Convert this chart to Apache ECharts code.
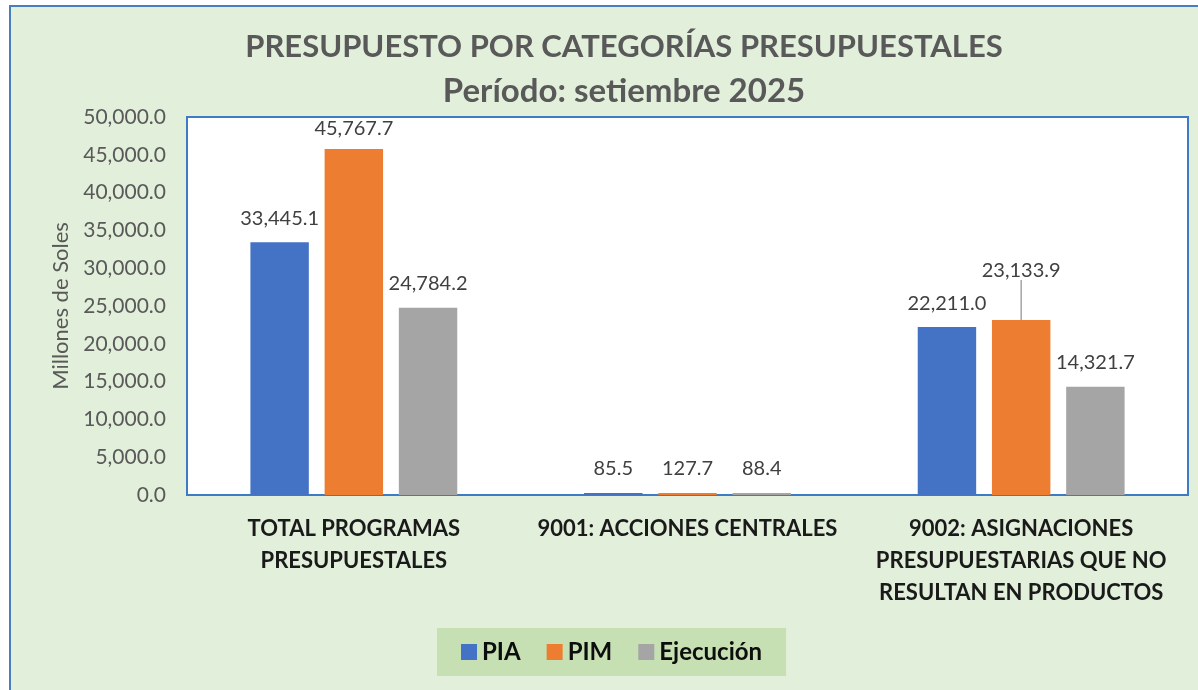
<!DOCTYPE html>
<html>
<head>
<meta charset="utf-8">
<script src="https://cdn.jsdelivr.net/npm/echarts@6/dist/echarts.min.js"></script>
<style>
html, body { margin: 0; padding: 0; background: #fff; }
#chart { width: 1198px; height: 690px; }
</style>
</head>
<body>
<div id="chart"></div>
<script>
"use strict";

/*-----data-----*/
var categories = [
	'TOTAL PROGRAMAS\nPRESUPUESTALES',
	'9001: ACCIONES CENTRALES',
	'9002: ASIGNACIONES\nPRESUPUESTARIAS QUE NO\nRESULTAN EN PRODUCTOS'
];
var pia = [33445.1, 85.5, 22211.0];
var pim = [45767.7, 127.7, 23133.9];
var ejecucion = [24784.2, 88.4, 14321.7];
var seriesNames = ['PIA', 'PIM', 'Ejecución'];

var font = 'Lato, "Open Sans", sans-serif';
var gridTop = 117;

function fmt(v) {
	return v.toLocaleString('en-US', { minimumFractionDigits: 1, maximumFractionDigits: 1 });
}

var labelStyle = {
	show: true,
	position: 'top',
	distance: 14,
	fontFamily: font,
	fontSize: 20,
	color: '#404040',
	formatter: function (p) { return fmt(p.value); }
};

// the PIM label of the last group is lifted, with a leader line
function toItems(data, seriesIdx) {
	return data.map(function (v, i) {
		if (seriesIdx === 1 && i === 2) {
			return { value: v, labelLine: { show: true } };
		}
		return v;
	});
}

function makeSeries(idx, data, color) {
	return {
		name: seriesNames[idx],
		type: 'bar',
		data: toItems(data, idx),
		barGap: '27%',
		barCategoryGap: '38%',
		barMinHeight: 2,
		itemStyle: { color: color },
		label: labelStyle,
		labelLine: { show: false, lineStyle: { color: '#a5a5a5', width: 1.5 } }
	};
}

var chart = echarts.init(document.getElementById('chart'));
var option = {
	backgroundColor: '#ffffff',
	graphic: [{
		type: 'rect',
		z: -10,
		shape: { x: 10, y: 6, width: 1200, height: 700 },
		style: { fill: '#e2efda', stroke: '#4a7ebb', lineWidth: 2 }
	}],
	title: {
		text: '{a|PRESUPUESTO POR CATEGORÍAS PRESUPUESTALES}\n{b|Período: setiembre 2025}',
		left: 619,
		top: 20,
		textAlign: 'center',
		textStyle: {
			rich: {
				a: { fontFamily: font, fontSize: 31, fontWeight: 'bold', color: '#595959', lineHeight: 44 },
				b: { fontFamily: font, fontSize: 33, fontWeight: 'bold', color: '#595959', lineHeight: 44 }
			}
		}
	},
	legend: {
		data: seriesNames,
		left: 437,
		top: 628,
		padding: [12, 24, 12, 24],
		itemGap: 26,
		itemWidth: 16,
		itemHeight: 16,
		icon: 'rect',
		backgroundColor: '#c6e0b4',
		textStyle: { fontFamily: font, fontSize: 24, fontWeight: 'bold', color: '#0d0d0d' }
	},
	grid: {
		left: 187,
		right: 10,
		top: gridTop,
		bottom: 195,
		show: true,
		backgroundColor: '#ffffff',
		borderColor: '#3d7cc4',
		borderWidth: 2
	},
	xAxis: {
		type: 'category',
		data: categories,
		axisLine: { show: false },
		axisTick: { show: false },
		axisLabel: {
			interval: 0,
			margin: 18,
			fontFamily: font,
			fontSize: 22,
			fontWeight: 'bold',
			color: '#1a1a1a',
			lineHeight: 32
		}
	},
	yAxis: {
		type: 'value',
		min: 0,
		max: 50000,
		interval: 5000,
		name: 'Millones de Soles',
		nameLocation: 'middle',
		nameGap: 112,
		nameTextStyle: { fontFamily: font, fontSize: 22, color: '#595959' },
		splitLine: { show: false },
		axisLine: { show: false },
		axisTick: { show: false },
		axisLabel: {
			margin: 21,
			fontFamily: font,
			fontSize: 21,
			color: '#595959',
			formatter: function (v) { return fmt(v); }
		}
	},
	labelLayout: function (p) {
		if (p.seriesIndex === 1 && p.dataIndex === 2) {
			return { dy: -26 };
		}
		// keep labels inside the plot area
		if (p.labelRect.y < gridTop + 2) {
			return { dy: gridTop + 2 - p.labelRect.y };
		}
		return {};
	},
	series: [
		makeSeries(0, pia, '#4472c4'),
		makeSeries(1, pim, '#ed7d31'),
		makeSeries(2, ejecucion, '#a5a5a5')
	]
};
chart.setOption(option);
window.addEventListener('resize', function () {
	chart.resize();
});
</script>
</body>
</html>
